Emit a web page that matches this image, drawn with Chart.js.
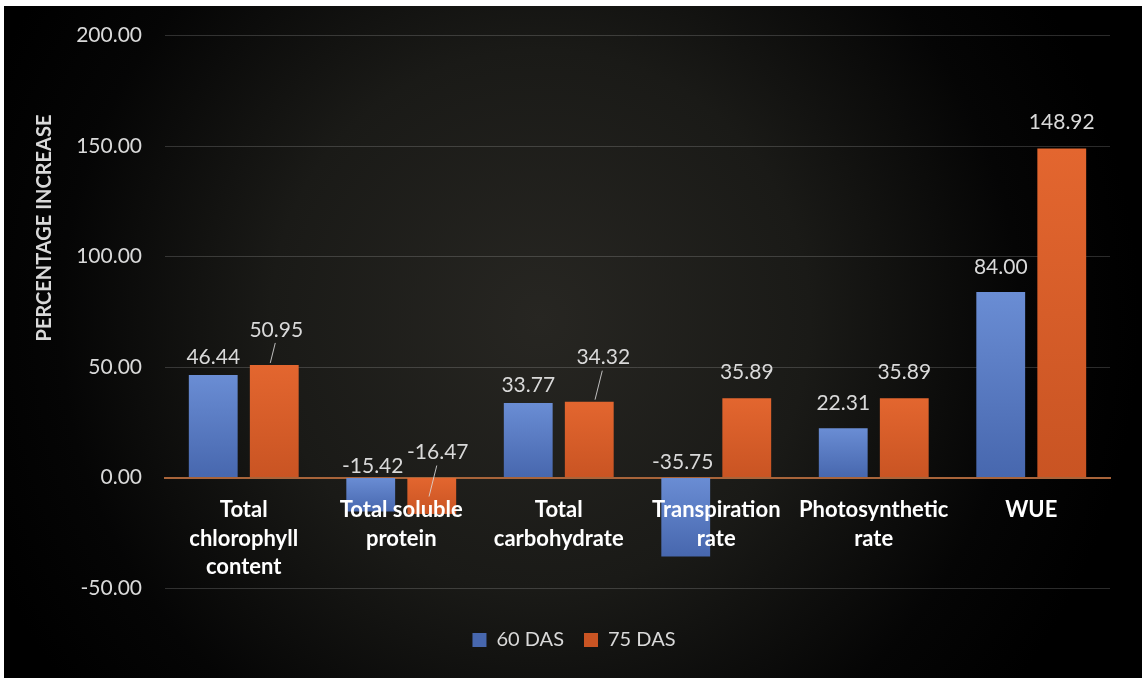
<!DOCTYPE html>
<html>
<head>
<meta charset="utf-8">
<title>Percentage increase at 60 and 75 DAS</title>
<script src="https://cdn.jsdelivr.net/npm/chart.js@4.4.1/dist/chart.umd.min.js"></script>
<style>
  html, body { margin: 0; padding: 0; background: #ffffff; }
  #wrap { position: relative; width: 1148px; height: 678px; }
</style>
</head>
<body>
<div id="wrap"><canvas id="chart"></canvas></div>
<script>
// Parameters measured on the plants (multi-line category labels)
const categories = [
  ['Total', 'chlorophyll', 'content'],
  ['Total soluble', 'protein'],
  ['Total', 'carbohydrate'],
  ['Transpiration', 'rate'],
  ['Photosynthetic', 'rate'],
  ['WUE']
];

// Percentage increase per sampling stage
const das60 = [46.44, -15.42, 33.77, -35.75, 22.31, 84.00];
const das75 = [50.95, -16.47, 34.32, 35.89, 35.89, 148.92];

const seriesNames = ['60 DAS', '75 DAS'];

// Value axis
const yMin = -50;
const yMax = 200;
const yStep = 50;

// Value-label placement: lift in px above the bar end (or above zero for negatives),
// horizontal nudge, and whether a leader line joins label and bar.
const labelLift = [
  [18, 11, 18, 15, 25, 25],
  [35, 25, 44, 26, 26, 26]
];
const labelShift = [
  [0, 2, 0, -3, 0, 0],
  [2, 6, 14, 0, 0, 0]
];
const labelLeader = [
  [false, false, false, false, false, false],
  [true, true, true, false, false, false]
];

const FONT = 'Lato, "Open Sans", "DejaVu Sans", sans-serif';
const TEXT_GREY = '#d9d9d9';

// Vertical gradient fill per bar: lighter at the top, deeper at the base
function barFill(top, bottom, solid) {
  return function (ctx) {
    if (ctx.type !== 'data') return solid;
    const chart = ctx.chart;
    if (!chart.chartArea) return solid;
    const y = chart.scales.y;
    const p0 = y.getPixelForValue(0);
    const p1 = y.getPixelForValue(ctx.raw);
    const a = Math.min(p0, p1), b = Math.max(p0, p1);
    if (b - a < 1) return solid;
    const g = chart.ctx.createLinearGradient(0, a, 0, b);
    g.addColorStop(0, top);
    g.addColorStop(1, bottom);
    return g;
  };
}

// Dark panel with a soft radial glow
const panelBackground = {
  id: 'panelBackground',
  beforeDraw(chart) {
    const c = chart.ctx;
    c.save();
    c.fillStyle = '#ffffff';
    c.fillRect(0, 0, chart.width, chart.height);
    const g = c.createRadialGradient(540, 320, 0, 540, 320, 600);
    g.addColorStop(0, '#272622');
    g.addColorStop(0.45, '#1a1a17');
    g.addColorStop(0.8, '#050505');
    g.addColorStop(1, '#000000');
    c.fillStyle = g;
    c.fillRect(4, 6, 1138, chart.height - 6);
    c.restore();
  }
};

// Rotated axis title on the left
const axisTitle = {
  id: 'axisTitle',
  afterDraw(chart) {
    const c = chart.ctx;
    c.save();
    c.translate(45, 228);
    c.rotate(-Math.PI / 2);
    c.font = 'bold 20px ' + FONT;
    c.fillStyle = TEXT_GREY;
    c.textAlign = 'center';
    c.textBaseline = 'middle';
    c.fillText('PERCENTAGE INCREASE', 0, 0);
    c.restore();
  }
};

// Value labels with optional leader lines
const valueLabels = {
  id: 'valueLabels',
  afterDatasetsDraw(chart) {
    const c = chart.ctx;
    const zero = chart.scales.y.getPixelForValue(0);
    c.save();
    c.font = '21px ' + FONT;
    c.fillStyle = TEXT_GREY;
    c.textAlign = 'center';
    c.textBaseline = 'middle';
    chart.data.datasets.forEach((ds, di) => {
      const meta = chart.getDatasetMeta(di);
      meta.data.forEach((bar, i) => {
        const v = ds.data[i];
        const end = v >= 0 ? bar.y : zero;
        const ly = end - labelLift[di][i];
        const lx = bar.x + labelShift[di][i];
        c.fillText(v.toFixed(2), lx, ly);
        if (labelLeader[di][i]) {
          const sy = ly + 13;
          const ey = v >= 0 ? bar.y - 2 : zero + 19;
          const ex = lx - 1 - 0.25 * (ey - sy);
          c.strokeStyle = 'rgba(217,217,217,0.85)';
          c.lineWidth = 1;
          c.beginPath();
          c.moveTo(lx - 1, sy);
          c.lineTo(ex, ey);
          c.stroke();
        }
      });
    });
    c.restore();
  }
};

new Chart(document.getElementById('chart'), {
  type: 'bar',
  data: {
    labels: categories,
    datasets: [
      {
        label: seriesNames[0],
        data: das60,
        backgroundColor: barFill('#6a8dd4', '#4767ae', '#5a7cc4'),
        borderWidth: 0,
        barPercentage: 0.8,
        categoryPercentage: 0.775
      },
      {
        label: seriesNames[1],
        data: das75,
        backgroundColor: barFill('#e3662f', '#c95423', '#dc5f2a'),
        borderWidth: 0,
        barPercentage: 0.8,
        categoryPercentage: 0.775
      }
    ]
  },
  options: {
    responsive: true,
    maintainAspectRatio: false,
    animation: false,
    devicePixelRatio: 1,
    layout: { padding: { left: 0, right: 0, top: 35, bottom: 18 } },
    scales: {
      x: {
        position: { y: 0 },
        offset: true,
        grid: { display: false, drawTicks: false },
        border: { display: true, color: '#a8643a', width: 2 },
        ticks: {
          z: 1,
          autoSkip: false,
          maxRotation: 0,
          padding: 18,
          color: '#ffffff',
          font: { family: FONT, size: 22, weight: 'bold', lineHeight: 1.3 }
        }
      },
      y: {
        min: yMin,
        max: yMax,
        afterFit(scale) { scale.width = 165; },
        grid: {
          color: 'rgba(217,217,217,0.2)',
          lineWidth: 1,
          drawTicks: false
        },
        border: { display: false },
        ticks: {
          stepSize: yStep,
          padding: 23,
          color: TEXT_GREY,
          font: { family: FONT, size: 21 },
          callback: (v) => Number(v).toFixed(2)
        }
      },
      // empty margin on the right of the plot
      yRight: {
        position: 'right',
        afterFit(scale) { scale.width = 38; },
        grid: { display: false, drawTicks: false },
        border: { display: false },
        ticks: { display: false }
      }
    },
    plugins: {
      legend: {
        position: 'bottom',
        title: { display: true, text: '', padding: 0, font: { size: 22, lineHeight: 1 } },
        labels: {
          boxWidth: 14,
          boxHeight: 14,
          padding: 20,
          color: TEXT_GREY,
          font: { family: FONT, size: 20 }
        }
      },
      tooltip: { enabled: false }
    }
  },
  plugins: [panelBackground, axisTitle, valueLabels]
});
</script>
</body>
</html>
